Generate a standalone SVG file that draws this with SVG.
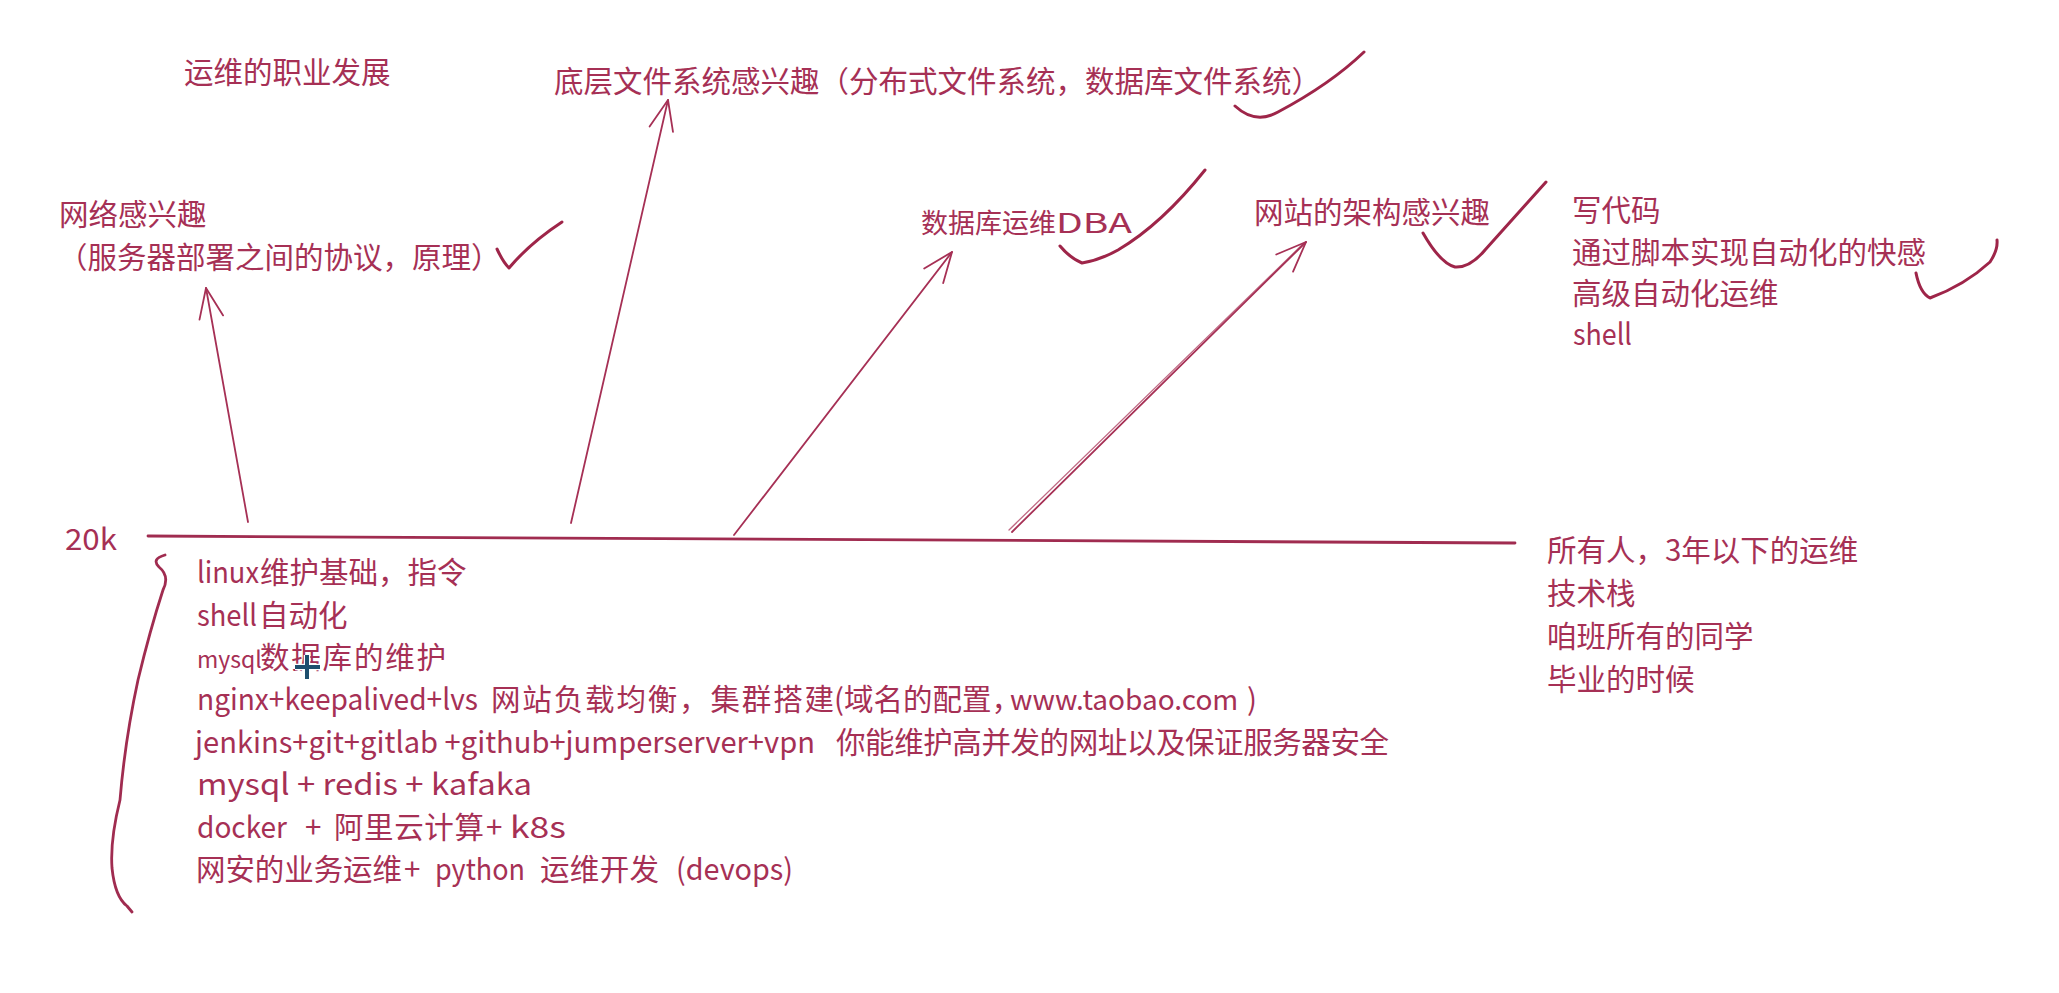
<svg xmlns="http://www.w3.org/2000/svg" width="2059" height="993" viewBox="0 0 2059 993">
<style>
  .t{font-family:"Noto Sans CJK SC","Noto Sans",sans-serif;fill:#a63055;font-size:29.5px}
  .s{font-size:27px}
  .ln{fill:none;stroke:#a63055;stroke-width:1.8;stroke-linecap:round;stroke-linejoin:round}
  .ck{fill:none;stroke:#9e2549;stroke-width:3;stroke-linecap:round;stroke-linejoin:round}
  .br{fill:none;stroke:#a02c50;stroke-width:2.8;stroke-linecap:round;stroke-linejoin:round}
  .dbl{fill:none;stroke:#c06a84;stroke-width:1.3;stroke-linecap:round}
</style>
<defs>
  <marker id="arr" markerUnits="userSpaceOnUse" viewBox="-34 -16 38 32" refX="0" refY="0" markerWidth="38" markerHeight="32" orient="auto" overflow="visible">
    <path d="M-30,-12 L0,0 L-30,12" fill="none" stroke="#a63055" stroke-width="1.8" stroke-linecap="round" stroke-linejoin="round"/>
  </marker>
</defs>
<rect width="2059" height="993" fill="#ffffff"/>

<g id="title"><text class="t" x="184" y="83">运维的职业发展</text></g>

<g id="node-network">
  <text class="t" x="59" y="225">网络感兴趣</text>
  <text class="t" x="58" y="268">（服务器部署之间的协议，原理）</text>
</g>
<g id="node-fs"><text class="t" x="554" y="92">底层文件系统感兴趣（分布式文件系统，数据库文件系统）</text></g>
<g id="node-dba">
  <text class="t s" x="921" y="233">数据库运维<tspan x="1056" textLength="76" lengthAdjust="spacingAndGlyphs">DBA</tspan></text>
</g>
<g id="node-arch"><text class="t" x="1254" y="223">网站的架构感兴趣</text></g>
<g id="node-code">
  <text class="t" x="1572" y="221">写代码</text>
  <text class="t" x="1572" y="262.5">通过脚本实现自动化的快感</text>
  <text class="t" x="1572" y="304">高级自动化运维</text>
  <text class="t" x="1573" y="345" textLength="59" lengthAdjust="spacingAndGlyphs">shell</text>
</g>
<g id="node-level"><text class="t" x="65" y="550" font-size="26" textLength="52" lengthAdjust="spacingAndGlyphs">20k</text></g>
<g id="node-all">
  <text class="t" x="1547" y="561">所有人，3年以下的运维</text>
  <text class="t" x="1547" y="604">技术栈</text>
  <text class="t" x="1547" y="647">咱班所有的同学</text>
  <text class="t" x="1547" y="690">毕业的时候</text>
</g>

<g id="node-stack">
  <text class="t" y="583"><tspan x="197" textLength="62" lengthAdjust="spacingAndGlyphs">linux</tspan><tspan x="260">维护基础，指令</tspan></text>
  <text class="t" y="625.5"><tspan x="197" textLength="60" lengthAdjust="spacingAndGlyphs">shell</tspan><tspan x="259">自动化</tspan></text>
  <text class="t" y="668"><tspan x="197" font-size="23">mysql</tspan><tspan x="260" textLength="186" lengthAdjust="spacing">数据库的维护</tspan></text>
  <text class="t" y="710"><tspan x="197" textLength="281" lengthAdjust="spacingAndGlyphs">nginx+keepalived+lvs</tspan><tspan x="491" textLength="343" lengthAdjust="spacing">网站负载均衡，集群搭建</tspan><tspan x="834">(</tspan><tspan x="844">域名的配置，</tspan><tspan x="1010" font-size="28">www.taobao.com</tspan><tspan x="1247">)</tspan></text>
  <text class="t" y="752.5"><tspan x="195" textLength="620" lengthAdjust="spacingAndGlyphs">jenkins+git+gitlab +github+jumperserver+vpn</tspan><tspan x="836" textLength="553" lengthAdjust="spacing">你能维护高并发的网址以及保证服务器安全</tspan></text>
  <text class="t" y="795"><tspan x="197" textLength="335" lengthAdjust="spacingAndGlyphs">mysql + redis + kafaka</tspan></text>
  <text class="t" y="837.5"><tspan x="197" textLength="90" lengthAdjust="spacingAndGlyphs">docker</tspan><tspan x="305">+</tspan><tspan x="334" textLength="150" lengthAdjust="spacing">阿里云计算</tspan><tspan x="486">+</tspan><tspan x="510" textLength="56" lengthAdjust="spacingAndGlyphs">k8s</tspan></text>
  <text class="t" y="880"><tspan x="196" textLength="206" lengthAdjust="spacing">网安的业务运维</tspan><tspan x="404">+</tspan><tspan x="435" textLength="90" lengthAdjust="spacingAndGlyphs">python</tspan><tspan x="540" textLength="119" lengthAdjust="spacing">运维开发</tspan><tspan x="676" textLength="117" lengthAdjust="spacingAndGlyphs">(devops)</tspan></text>
</g>

<g id="connectors">
  <path class="br" d="M148,536 L1515,543"/>
  <path class="ln" d="M248,522 L206,288" marker-end="url(#arr)"/>
  <path class="ln" d="M571,523 L668,100" marker-end="url(#arr)"/>
  <path class="ln" d="M734,535 L952,252" marker-end="url(#arr)"/>
  <path class="dbl" d="M1009,530 L1303,244"/>
  <path class="ln" d="M1012,532 L1306,242" marker-end="url(#arr)"/>
</g>

<g id="brace">
  <path class="br" d="M165,555 Q151,559 159,567 Q170,576 163,590 Q150,630 138,680 Q125,740 120,800 Q110,840 112,868 Q115,897 127,906 L132,912"/>
</g>

<g id="checks">
  <path class="ck" d="M497,249 Q503,262 509,268 Q530,243 562,222"/>
  <path class="ck" d="M1235,106 C1248,118 1262,121 1278,112 C1310,95 1340,75 1364,52"/>
  <path class="ck" d="M1060,246 Q1070,258 1082,263 Q1100,260 1118,250 Q1162,224 1205,170"/>
  <path class="ck" d="M1423,233 Q1440,263 1455,267 Q1470,268 1485,250 L1546,182"/>
  <path class="ck" d="M1916,273 Q1920,293 1930,298 Q1965,285 1990,262 Q1998,250 1997,240"/>
</g>

<g id="cursor">
  <path d="M295,667 H320 M307,655 V679" stroke="#ffffff" stroke-width="6.5" fill="none"/>
  <path d="M295,667 H320 M307,655 V679" stroke="#1f4f6e" stroke-width="4" fill="none"/>
</g>
</svg>
